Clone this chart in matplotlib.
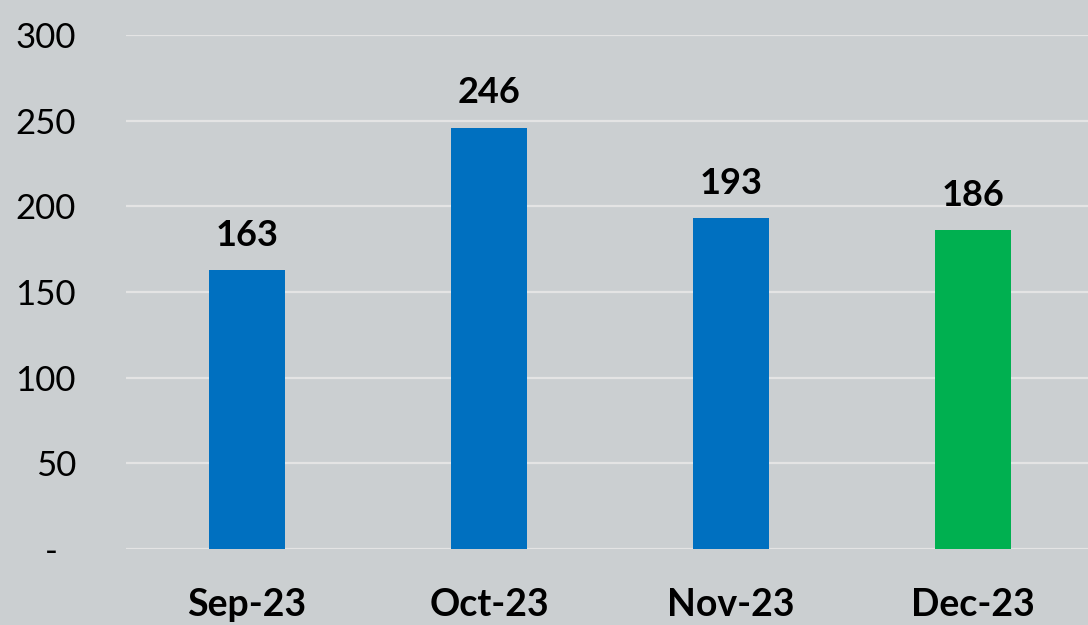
import matplotlib
matplotlib.use("Agg")
import matplotlib.pyplot as plt
import numpy as np

categories = ["Sep-23", "Oct-23", "Nov-23", "Dec-23"]
values = [163, 246, 193, 186]
colors = ["#0070C0", "#0070C0", "#0070C0", "#00B050"]
yticks = [0, 50, 100, 150, 200, 250, 300]
ytick_labels = ["-  ", "50", "100", "150", "200", "250", "300"]

plt.rcParams["font.family"] = ["Lato", "DejaVu Sans"]

fig = plt.figure(figsize=(10.88, 6.25), dpi=100)
bg = "#cbcfd1"
fig.patch.set_facecolor(bg)
ax = fig.add_axes([126/1088, 76/625, 1 - 126/1088, (549-35)/625])
ax.set_facecolor(bg)

x = np.arange(len(categories))
ax.bar(x, values, width=0.314, color=colors, zorder=3)
for xi, v in zip(x, values):
    ax.annotate(str(v), (xi, v), xytext=(0, 13), textcoords="offset points",
                ha="center", va="bottom", fontsize=26, fontweight="bold", color="black")

ax.set_ylim(0, 300)
ax.set_xlim(-0.5, 3.475)
ax.set_yticks(yticks)
ax.set_yticklabels(ytick_labels)
ax.set_xticks(x)
ax.set_xticklabels(categories, fontweight="bold")
ax.grid(axis="y", color="#e4e4e4", linewidth=1.6, zorder=0)
for s in ax.spines.values():
    s.set_visible(False)
ax.tick_params(axis="y", length=0, pad=36, labelsize=25, labelcolor="black")
ax.tick_params(axis="x", length=0, pad=28, labelsize=27, labelcolor="black")

fig.savefig("out.png", dpi=100, facecolor=bg)
